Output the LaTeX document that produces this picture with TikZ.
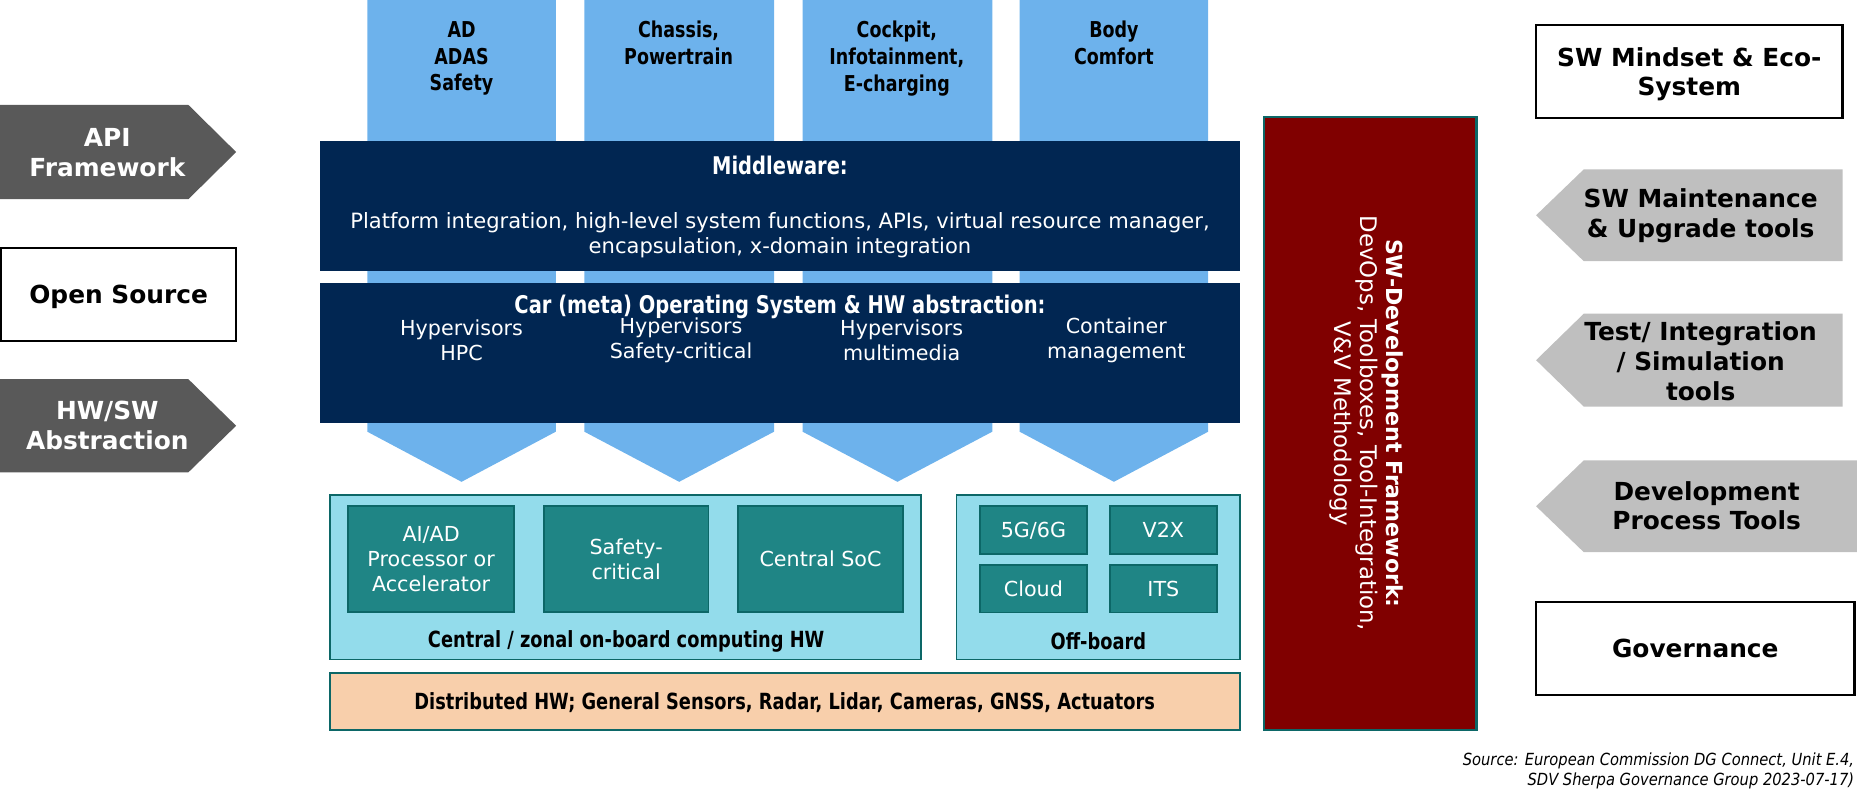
\documentclass[tikz,border=0pt]{standalone}
\usepackage{fontspec}
\setmainfont{DejaVu Sans}
\newfontfamily\cond[FakeStretch=0.8]{DejaVu Sans}
\newfontfamily\tah[FakeStretch=0.88]{DejaVu Sans}
\usetikzlibrary{fit}
\definecolor{navy}{HTML}{012652}
\definecolor{colblue}{HTML}{6DB2EC}
\definecolor{cyanbox}{HTML}{93DCEB}
\definecolor{tealin}{HTML}{1F8585}
\definecolor{tealline}{HTML}{0C6767}
\definecolor{peach}{HTML}{F8CFAB}
\definecolor{maroon}{HTML}{800000}
\definecolor{dgray}{HTML}{595959}
\definecolor{lgray}{HTML}{BFBFBF}
\tikzset{
  sz/.style 2 args={minimum width=#1*0.6pt, minimum height=#2*0.6pt, inner sep=0pt},
  navybox/.style={fill=navy, inner sep=0pt},
  outerbox/.style={fill=cyanbox, draw=tealline, line width=0.9pt, inner sep=0pt},
  innerbox/.style={fill=tealin, draw=tealline, line width=0.9pt, inner sep=0pt, text=white, align=center,
    text depth=0pt, font=\fontsize{10.4}{12.6}\selectfont},
  whitebox/.style={draw=black, line width=1.2pt, inner sep=0pt, align=center, text depth=0pt,
    font=\bfseries\fontsize{12.5}{15}\selectfont},
  bigw/.style={text=white, align=center, font=\bfseries\fontsize{12.5}{15}\selectfont},
  bigk/.style={text=black, align=center, font=\bfseries\fontsize{12.5}{15}\selectfont},
  collab/.style={text=black, align=center, anchor=north, font=\cond\bfseries\fontsize{11}{13.5}\selectfont},
  titlew/.style={text=white, align=center, font=\cond\bfseries\fontsize{12.25}{14}\selectfont},
  condk/.style={text=black, align=center, font=\cond\bfseries\fontsize{11.2}{13.5}\selectfont},
  regw/.style={text=white, align=center, font=\fontsize{10.4}{12.6}\selectfont},
}
\begin{document}
\begin{tikzpicture}[x=0.6pt,y=-0.6pt]
\useasboundingbox (0,0) rectangle (1568,669.1);

% vertical domain columns with chevrons
\foreach \l/\r in {308/466, 490/649, 673/832, 855/1013}{
  \fill[colblue] (\l,0) -- (\r,0) -- (\r,362) -- ({(\l+\r)/2},404) -- (\l,362) -- cycle;
}
\node[collab] (c1) at (387,12) {AD\\ADAS\\Safety};
\node[collab] (c2) at (569,12) {Chassis,\\Powertrain};
\node[collab] (c3) at (752,12) {Cockpit,\\Infotainment,\\E-charging};
\node[collab] (c4) at (934,12) {Body\\Comfort};

% middleware
\node[navybox, fit={(268,118) (1040,227)}] (mw) {};
\node[titlew] (mwt) at (654,139) {Middleware:};
\node[regw, font=\fontsize{10.6}{12.6}\selectfont] (mwb) at (654,197) {Platform integration, high-level system functions, APIs, virtual resource manager,\\encapsulation, x-domain integration};

% operating system
\node[navybox, fit={(268,237) (1040,355)}] (os) {};
\node[titlew] (ost) at (654,257) {Car (meta) Operating System \& HW abstraction:};
\node[regw] (os1) at (387,285.5) {Hypervisors\\HPC};
\node[regw] (os2) at (571,285.5) {Hypervisors\\Safety-critical};
\node[regw] (os3) at (756,285.5) {Hypervisors\\multimedia};
\node[regw] (os4) at (936,285.5) {Container\\management};

% central on-board computing
\node[outerbox, fit={(277,415) (772,553)}] (cen) {};
\node[innerbox, sz={139}{89}] (ai) at (361.5,468.5) {AI/AD\\Processor or\\Accelerator};
\node[innerbox, sz={138}{89}] (sc) at (525,468.5) {Safety-\\critical};
\node[innerbox, sz={138}{89}] (soc) at (688,468.5) {Central SoC};
\node[condk] (cenl) at (525,538) {Central / zonal on-board computing HW};

% off-board
\node[outerbox, fit={(802,415) (1040,553)}] (off) {};
\node[innerbox, sz={90}{40}] (g5) at (866.5,444.5) {5G/6G};
\node[innerbox, sz={90}{40}] (v2x) at (975.5,444.5) {V2X};
\node[innerbox, sz={90}{40}] (cloud) at (866.5,493.5) {Cloud};
\node[innerbox, sz={90}{40}] (its) at (975.5,493.5) {ITS};
\node[condk] (offl) at (921,538) {Off-board};

% distributed HW
\node[fill=peach, draw=tealline, line width=0.9pt, inner sep=0pt, fit={(277,564) (1040,612)}] (dist) {};
\node[condk] (distl) at (658,589) {Distributed HW; General Sensors, Radar, Lidar, Cameras, GNSS, Actuators};

% SW development framework
\node[fill=maroon, draw=tealline, line width=1.2pt, inner sep=0pt, fit={(1060,98) (1238,612)}] (swd) {};
\node[text=white, align=center, rotate=-90, font=\fontsize{11.5}{13}\selectfont] (swdt) at (1146,355)
  {{\bfseries\fontsize{11.1}{13}\selectfont SW-Development Framework:}\\DevOps, Toolboxes, Tool-Integration,\\V\&V Methodology};

% left side
\fill[dgray] (0,88) -- (158,88) -- (198,127.5) -- (158,167) -- (0,167) -- cycle;
\node[bigw] (api) at (90,128) {API\\Framework};
\node[whitebox, sz={197}{78}] (osrc) at (99.5,247) {Open Source};
\fill[dgray] (0,318) -- (158,318) -- (198,357) -- (158,396) -- (0,396) -- cycle;
\node[bigw] (hwsw) at (90,357) {HW/SW\\Abstraction};

% right side
\node[whitebox, sz={257}{78}] (mind) at (1416.5,60) {SW Mindset \& Eco-\\System};
\fill[lgray] (1545,142) -- (1328,142) -- (1288,180.5) -- (1328,219) -- (1545,219) -- cycle;
\node[bigk] (maint) at (1426,181) {SW Maintenance\\\& Upgrade tools};
\fill[lgray] (1545,263) -- (1328,263) -- (1288,302) -- (1328,341) -- (1545,341) -- cycle;
\node[bigk] (test) at (1426,303) {Test/ Integration\\/ Simulation\\tools};
\fill[lgray] (1557,386) -- (1328,386) -- (1288,424.5) -- (1328,463) -- (1557,463) -- cycle;
\node[bigk] (dev) at (1431,424) {Development\\Process Tools};
\node[whitebox, sz={267}{78}] (gov) at (1421.5,544) {Governance};

% source
\node[anchor=east, align=right, inner sep=0pt, font=\tah\itshape\fontsize{8.4}{10.2}\selectfont] (src) at (1555,646.5)
  {Source: European Commission DG Connect, Unit E.4,\\SDV Sherpa Governance Group 2023-07-17)};
\end{tikzpicture}
\end{document}
